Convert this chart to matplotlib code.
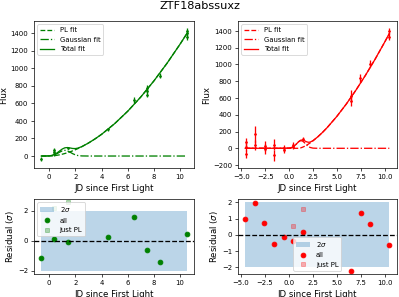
import matplotlib
matplotlib.use('Agg')
import matplotlib.pyplot as plt

# Light curve data (left: green band, right: red band)
g_jd = [-0.6, 0.4, 0.4, 0.4, 1.45, 4.5, 6.5, 7.5, 7.5, 7.5, 8.5, 10.5, 10.5, 10.5]
g_flux = [-35, 20, 45, 70, 90, 305, 640, 700, 745, 780, 915, 1360, 1400, 1430]
g_err = [25, 20, 20, 20, 15, 15, 30, 30, 30, 30, 30, 35, 35, 35]

r_jd = [-4.55, -4.55, -4.55, -3.55, -3.55, -2.55, -2.55, -1.55, -1.55,
        -0.55, -0.55, 0.45, 0.45, 1.45, 6.45, 6.45, 7.45, 8.45, 10.45, 10.45]
r_flux = [70, 20, -70, 165, 40, 30, -10, 45, -85, 5, -20, 20, 45, 115,
          620, 560, 840, 1010, 1400, 1330]
r_err = [50, 50, 50, 100, 60, 60, 60, 60, 70, 35, 35, 30, 30, 25,
         70, 60, 50, 45, 40, 40]

# Fit curves
g_fit_jd = [-0.6, -0.2, 0.0, 0.2, 0.4, 0.6, 0.8, 1.0, 1.2, 1.4, 1.6, 1.8, 2.0,
            2.2, 2.5, 3.0, 3.5, 4.0, 5.0, 6.0, 7.0, 8.0, 9.0, 10.0, 10.5]
g_pl = [0, 0, 0, 1.2, 4.0, 8.3, 13.9, 20.7, 28.7, 37.8, 48.0, 59.3, 71.6,
        84.9, 106.8, 148, 195, 247, 369, 511, 674, 857, 1058, 1277, 1393]
g_gauss = [0, 0.5, 1.9, 5.5, 13.4, 26.7, 43.8, 58.9, 65, 58.9, 43.8, 26.7,
           13.4, 5.5, 1.0, 0, 0, 0, 0, 0, 0, 0, 0, 0, 0]
g_total = [0, 0.5, 1.9, 6.7, 17.4, 35.0, 57.7, 79.6, 93.7, 96.7, 91.8, 86.0,
           85.0, 90.4, 107.8, 148, 195, 247, 369, 511, 674, 857, 1058, 1277, 1393]

r_fit_jd = [-4.6, -4.0, -3.0, -2.0, -1.0, 0.0, 0.2, 0.4, 0.6, 0.8, 1.0, 1.2,
            1.4, 1.6, 1.8, 2.0, 2.2, 2.5, 3.0, 3.5, 4.0, 5.0, 6.0, 7.0, 8.0,
            9.0, 10.0, 10.5]
r_pl = [0, 0, 0, 0, 0, 0, 0, 0, 0, 0, 0, 4.5, 12.6, 23.0, 35.2, 48.9, 64.1,
        89.1, 136.4, 189.8, 248.6, 380.5, 529.4, 693.5, 871, 1061, 1264, 1369]
r_gauss = [0, 0, 0, 0, 0, 1.9, 6.0, 15.5, 32.4, 55.8, 78.9, 91.4, 87.0, 68.0,
           43.6, 22.9, 9.9, 1.9, 0, 0, 0, 0, 0, 0, 0, 0, 0, 0]
r_total = [0, 0, 0, 0, 0, 1.9, 6.0, 15.5, 32.4, 55.8, 78.9, 95.9, 99.6, 91.0,
           78.8, 71.8, 74.0, 91.0, 136.4, 189.8, 248.6, 380.5, 529.4, 693.5,
           871, 1061, 1264, 1369]

# Residuals (one per epoch)
g_res_jd = [-0.6, 0.4, 1.45, 4.5, 6.5, 7.5, 8.5, 10.5]
g_res = [-1.15, 0.1, -0.1, 0.25, 1.6, -0.6, -1.45, 0.45]
g_respl_jd = [0.4, 1.45]
g_respl = [2.2, 2.55]

r_res_jd = [-4.55, -3.55, -2.55, -1.55, -0.55, 0.45, 1.45, 6.45, 7.45, 8.45, 10.45]
r_res = [0.95, 1.95, 0.7, -0.55, -0.12, -0.35, 0.18, -2.2, 1.32, 0.68, -0.62]
r_respl_jd = [0.45, 1.45]
r_respl = [0.55, 1.6]


def plot_lc(ax, jd, flux, err, fit_jd, pl, gauss, total, color):
    ax.plot(fit_jd, pl, '--', color=color, label='PL fit')
    ax.plot(fit_jd, gauss, '-.', color=color, label='Gaussian fit')
    ax.plot(fit_jd, total, '-', color=color, label='Total fit')
    ax.errorbar(jd, flux, yerr=err, fmt='.', color=color, ms=4)
    ax.set_xlabel('JD since First Light')
    ax.set_ylabel('Flux', labelpad=2)
    ax.legend(loc='upper left', fontsize=8)


def plot_res(ax, jd, res, pl_jd, pl_res, color, loc):
    ax.fill_between([jd[0], jd[-1]], -2, 2, alpha=0.3, label=r'2$\sigma$')
    ax.plot(jd, res, 'o', color=color, ms=5.5, label='all')
    ax.plot(pl_jd, pl_res, 's', color=color, ms=5.5, alpha=0.3, label='just PL')
    ax.axhline(0, color='k', ls='--')
    ax.set_xlabel('JD since First Light')
    ax.set_ylabel(r'Residual ($\sigma$)', labelpad=2)
    ax.legend(loc=loc, fontsize=8)


plt.rcParams.update({'xtick.labelsize': 8, 'ytick.labelsize': 8,
                     'axes.labelsize': 10})

fig = plt.figure(figsize=(6.4, 4.765), dpi=62.35)
fig.suptitle('ZTF18abssuxz', fontsize=13, y=0.995)

ax1 = fig.add_axes([0.0852, 0.4343, 0.4008, 0.4950])
ax2 = fig.add_axes([0.5965, 0.4343, 0.3972, 0.4950])
ax3 = fig.add_axes([0.0852, 0.0774, 0.4008, 0.2526])
ax4 = fig.add_axes([0.5965, 0.0774, 0.3972, 0.2526])

plot_lc(ax1, g_jd, g_flux, g_err, g_fit_jd, g_pl, g_gauss, g_total, 'green')
plot_lc(ax2, r_jd, r_flux, r_err, r_fit_jd, r_pl, r_gauss, r_total, 'red')
plot_res(ax3, g_res_jd, g_res, g_respl_jd, g_respl, 'green', 'upper left')
plot_res(ax4, r_res_jd, r_res, r_respl_jd, r_respl, 'red', 'lower center')

fig.savefig('out.png', dpi=62.35)
